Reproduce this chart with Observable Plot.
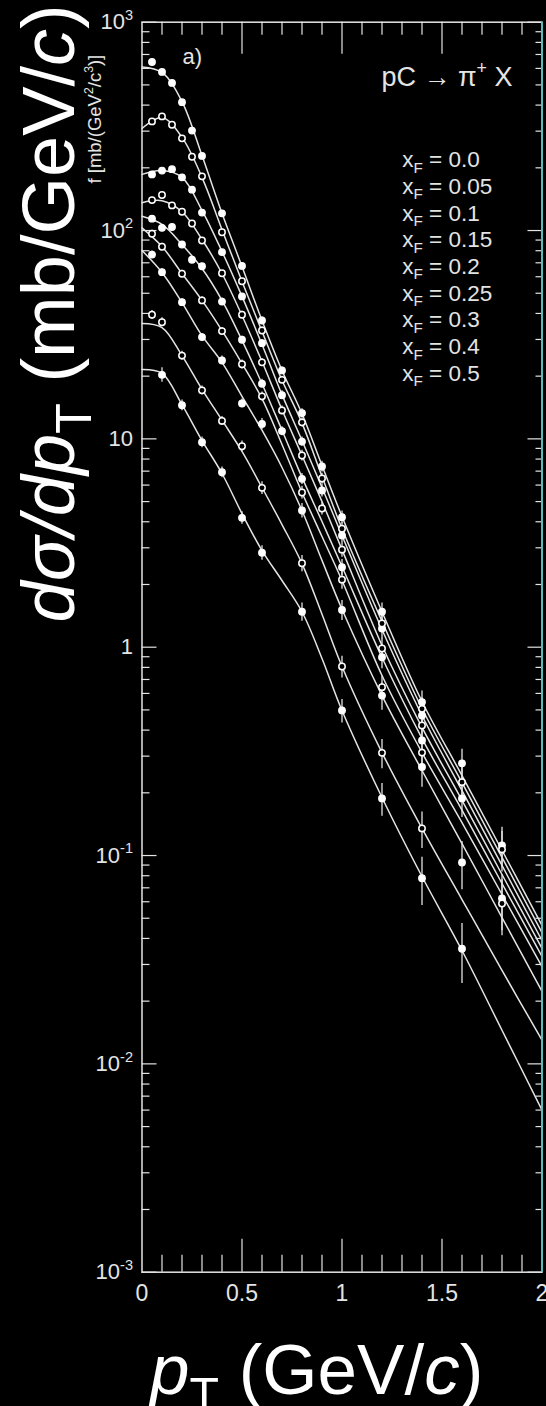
<!DOCTYPE html>
<html>
<head>
<meta charset="utf-8">
<script src="https://cdn.jsdelivr.net/npm/d3@7"></script>
<script src="https://cdn.jsdelivr.net/npm/@observablehq/plot@0.6"></script>
<style>
  html, body { margin: 0; padding: 0; background: #000; }
  #chart svg { display: block; }
</style>
</head>
<body>
<div id="chart"></div>
<script>
// p + C -> pi+ X : transverse-momentum spectra at fixed Feynman x (xF)

const xFValues = ["0.0", "0.05", "0.1", "0.15", "0.2", "0.25", "0.3", "0.4", "0.5"];

// measured pT bins (GeV/c)
const ptBins = [0.05, 0.1, 0.15, 0.2, 0.25, 0.3, 0.4, 0.5, 0.6, 0.7, 0.8, 0.9, 1.0, 1.2, 1.4, 1.6, 1.8];

// measured cross sections, one array per xF (null = no point in that bin)
const f_xF000 = [644, 577, 511, 413, 302, 228, 121, 67.6, 37.0, 21.3, 13.3, 7.37, 4.21, 1.48, 0.545, 0.277, 0.112];
const f_xF005 = [334, 353, 322, 277, 226, 182, 98.2, 57.1, 33.1, 19.2, 12.0, 6.45, 3.70, 1.30, 0.506, 0.225, 0.107];
const f_xF010 = [186, 194, 197, 180, 157, 122, 78.7, 48.3, 28.8, 16.2, 9.71, 5.65, 3.44, 1.23, 0.470, 0.188, 0.0622];
const f_xF015 = [140, 148, 132, 123, 108, 89.6, 62.4, 39.4, 23.3, 13.7, 8.32, 4.63, 2.94, 0.986, 0.421, null, 0.0589];
const f_xF020 = [114, 103, 104, 85.7, 72.4, 67.4, 45.6, 29.9, 18.4, 10.9, 6.43, null, 2.42, 0.895, 0.357, null, null];
const f_xF025 = [96.5, 83.6, null, 62.0, null, 46.2, 32.9, 22.8, 16.0, null, 5.53, null, 2.11, 0.643, 0.312, null, null];
const f_xF030 = [76.7, 63.1, null, 45.3, null, 30.8, 23.8, 14.8, 11.8, null, 4.53, null, 1.51, 0.586, 0.266, 0.0926, null];
const f_xF040 = [39.4, 36.3, null, 25.1, null, 17.1, 12.2, 9.22, 5.82, null, 2.53, null, 0.808, 0.311, 0.135, null, null];
const f_xF050 = [null, 20.3, null, 14.5, null, 9.64, 6.92, 4.18, 2.84, null, 1.48, null, 0.497, 0.188, 0.0778, 0.0357, null];

// relative statistical errors, same layout
const e_xF000 = [0.02, 0.02, 0.02, 0.02, 0.02, 0.02, 0.03, 0.03, 0.04, 0.04, 0.05, 0.06, 0.07, 0.10, 0.13, 0.17, 0.22];
const e_xF005 = [0.02, 0.02, 0.02, 0.02, 0.02, 0.02, 0.03, 0.03, 0.04, 0.04, 0.05, 0.06, 0.07, 0.10, 0.13, 0.18, 0.22];
const e_xF010 = [0.02, 0.02, 0.02, 0.02, 0.02, 0.03, 0.03, 0.03, 0.04, 0.05, 0.05, 0.07, 0.08, 0.11, 0.14, 0.19, 0.30];
const e_xF015 = [0.03, 0.03, 0.03, 0.03, 0.03, 0.03, 0.03, 0.04, 0.04, 0.05, 0.06, 0.07, 0.08, 0.12, 0.15, null, 0.30];
const e_xF020 = [0.03, 0.03, 0.03, 0.03, 0.03, 0.03, 0.04, 0.04, 0.05, 0.05, 0.06, null, 0.09, 0.12, 0.16, null, null];
const e_xF025 = [0.04, 0.04, null, 0.04, null, 0.04, 0.04, 0.05, 0.05, null, 0.07, null, 0.10, 0.13, 0.18, null, null];
const e_xF030 = [0.04, 0.04, null, 0.04, null, 0.04, 0.05, 0.05, 0.06, null, 0.08, null, 0.11, 0.15, 0.20, 0.26, null];
const e_xF040 = [0.05, 0.05, null, 0.05, null, 0.05, 0.05, 0.06, 0.07, null, 0.09, null, 0.12, 0.16, 0.20, null, null];
const e_xF050 = [null, 0.08, null, 0.06, null, 0.06, 0.06, 0.07, 0.08, null, 0.10, null, 0.13, 0.18, 0.26, 0.32, null];

// smooth interpolating curves, sampled on a fixed pT grid
const curvePt = [0, 0.1, 0.2, 0.3, 0.4, 0.5, 0.6, 0.7, 0.8, 0.9, 1.0, 1.2, 1.4, 1.6, 1.8, 2.0];
const fit_xF000 = [610, 574, 416, 229, 121, 67.2, 37.0, 21.3, 13.2, 7.45, 4.24, 1.48, 0.549, 0.242, 0.106, 0.0462];
const fit_xF005 = [309, 349, 280, 180, 101, 56.9, 32.8, 19.1, 11.9, 6.60, 3.71, 1.33, 0.508, 0.224, 0.0979, 0.0427];
const fit_xF010 = [186, 194, 180, 125, 79.3, 48.3, 28.4, 16.3, 9.82, 5.84, 3.44, 1.216, 0.470, 0.205, 0.0896, 0.0391];
const fit_xF015 = [136, 139, 123, 90.6, 62.2, 39.1, 23.5, 13.8, 8.32, 5.00, 2.94, 1.019, 0.412, 0.184, 0.0811, 0.0358];
const fit_xF020 = [117, 107, 85.7, 65.7, 46.2, 29.7, 18.4, 11.0, 6.53, 4.01, 2.44, 0.892, 0.365, 0.165, 0.0734, 0.0328];
const fit_xF025 = [103, 83.8, 62.2, 46.2, 33.1, 23.0, 15.6, 9.40, 5.53, 3.40, 2.09, 0.731, 0.312, 0.144, 0.065, 0.0293];
const fit_xF030 = [80.2, 62.9, 45.1, 31.3, 23.3, 16.0, 11.0, 7.29, 4.53, 2.61, 1.52, 0.586, 0.256, 0.114, 0.0504, 0.0223];
const fit_xF040 = [35.8, 34.2, 25.1, 17.3, 12.3, 8.70, 5.84, 3.88, 2.52, 1.44, 0.808, 0.312, 0.135, 0.0615, 0.0281, 0.0130];
const fit_xF050 = [21.5, 20.6, 14.6, 9.82, 6.82, 4.38, 2.91, 2.09, 1.48, 0.883, 0.497, 0.190, 0.0793, 0.035, 0.0145, 0.0060];

// axis ticks
const xTickLabels = [0, 0.5, 1, 1.5, 2];
const xMajorTicks = [0.5, 1, 1.5];
const xMinorTicks = [0.1, 0.2, 0.3, 0.4, 0.6, 0.7, 0.8, 0.9, 1.1, 1.2, 1.3, 1.4, 1.6, 1.7, 1.8, 1.9];
const yDecades = [1e-3, 1e-2, 1e-1, 1, 10, 100, 1000];
const yTickLabels = ["10^{-3}", "10^{-2}", "10^{-1}", "1", "10", "10^{2}", "10^{3}"];
const yMinorSteps = [2, 3, 4, 5, 6, 7, 8, 9];

// ---- tables for the marks ----
const measured = [f_xF000, f_xF005, f_xF010, f_xF015, f_xF020, f_xF025, f_xF030, f_xF040, f_xF050];
const errors = [e_xF000, e_xF005, e_xF010, e_xF015, e_xF020, e_xF025, e_xF030, e_xF040, e_xF050];
const fits = [fit_xF000, fit_xF005, fit_xF010, fit_xF015, fit_xF020, fit_xF025, fit_xF030, fit_xF040, fit_xF050];

const points = measured.flatMap((vals, s) =>
  vals.map((f, i) => ({s, pt: ptBins[i], f, err: errors[s][i], open: s % 2 === 1}))
).filter(d => d.f != null);

const curves = fits.flatMap((vals, s) => vals.map((f, i) => ({s, pt: curvePt[i], f})));

const yMinorTicks = yDecades.slice(0, -1).flatMap(d => yMinorSteps.map(k => k * d));
const yLabelFor = new Map(yDecades.map((d, i) => [d, yTickLabels[i]]));

// ---- layout ----
const W = 546, H = 1406;
const M = {top: 21.7, right: 4.5, bottom: 134.3, left: 141.5};
const plotW = W - M.left - M.right;
const plotH = H - M.top - M.bottom;
const fg = "#e4e4e4";
const font = "'Liberation Sans', Arial, Helvetica, sans-serif";

const legendMarks = xFValues.map((v, i) =>
  Plot.text([`x_{F} = ${v}`], {
    text: d => d, frameAnchor: "top-left", textAnchor: "start", lineAnchor: "bottom",
    dx: 260.2, dy: 145 + i * 26.7, fontSize: 22.5, fill: fg
  })
);

const chart = Plot.plot({
  width: W, height: H,
  marginTop: M.top, marginRight: M.right, marginBottom: M.bottom, marginLeft: M.left,
  style: {background: "#000", color: fg, fontFamily: font},
  x: {domain: [0, 2]},
  y: {type: "log", domain: [1e-3, 1e3]},
  marks: [
    Plot.frame({stroke: fg, strokeWidth: 1.5}),

    // inward ticks on all four sides
    Plot.tickX(xMinorTicks, {x: d => d, insetTop: plotH - 17, stroke: fg, strokeWidth: 1.2}),
    Plot.tickX(xMajorTicks, {x: d => d, insetTop: plotH - 33, stroke: fg, strokeWidth: 1.2}),
    Plot.tickX(xMinorTicks, {x: d => d, insetBottom: plotH - 13, stroke: fg, strokeWidth: 1.2}),
    Plot.tickX(xMajorTicks, {x: d => d, insetBottom: plotH - 32, stroke: fg, strokeWidth: 1.2}),
    Plot.tickY(yMinorTicks, {y: d => d, insetRight: plotW - 8, stroke: fg, strokeWidth: 1.2}),
    Plot.tickY(yDecades, {y: d => d, insetRight: plotW - 15, stroke: fg, strokeWidth: 1.2}),
    Plot.tickY(yMinorTicks, {y: d => d, insetLeft: plotW - 6, stroke: fg, strokeWidth: 1.2}),
    Plot.tickY(yDecades, {y: d => d, insetLeft: plotW - 14, stroke: fg, strokeWidth: 1.2}),

    Plot.axisX({ticks: xTickLabels, tickSize: 0, tickPadding: 12, fontSize: 23, label: null,
                tickFormat: d => String(d)}),
    Plot.axisY({ticks: yDecades, tickSize: 0, tickPadding: 9, fontSize: 22, label: null,
                tickFormat: d => yLabelFor.get(d)}),

    // curves, error bars, markers
    Plot.line(curves, {x: "pt", y: "f", z: "s", curve: "catmull-rom", stroke: fg, strokeWidth: 1.5}),
    Plot.ruleX(points, {x: "pt", y1: d => d.f * (1 - d.err), y2: d => d.f * (1 + d.err), stroke: fg, strokeWidth: 1.3}),
    Plot.dot(points.filter(d => !d.open), {x: "pt", y: "f", r: 3.3, fill: "#fff", stroke: "#fff", strokeWidth: 1.2}),
    Plot.dot(points.filter(d => d.open), {x: "pt", y: "f", r: 3.2, fill: "#000", stroke: "#fff", strokeWidth: 1.5}),

    Plot.ruleX([2], {stroke: "#4dbdbd", strokeWidth: 1.8}),

    // annotations
    Plot.text(["a)"], {text: d => d, frameAnchor: "top-left", textAnchor: "start", lineAnchor: "bottom",
                       dx: 40.5, dy: 41.3, fontSize: 22, fill: fg}),
    Plot.text(["pC → π^{+} X"], {text: d => d, frameAnchor: "top-right", textAnchor: "end", lineAnchor: "bottom",
                       dx: -29.5, dy: 63.3, fontSize: 27, fill: fg}),
    ...legendMarks,
    Plot.text(["f [mb/(GeV^{2}/c^{3})]"], {text: d => d, frameAnchor: "top-left", rotate: -90,
                       textAnchor: "start", lineAnchor: "bottom", dx: -41.5, dy: 161.3, fontSize: 18.5, fill: fg}),
    Plot.text(["|dσ/dp|_{T} (mb/GeV/|c|)"], {text: d => d, frameAnchor: "bottom-left", rotate: -90,
                       textAnchor: "start", lineAnchor: "bottom", dx: -68.5, dy: -649.7, fontSize: 74, fill: "#fff"}),
    Plot.text(["|p|_{T} (GeV/|c|)"], {text: d => d, frameAnchor: "bottom-left",
                       textAnchor: "start", lineAnchor: "bottom", dx: 8, dy: 121.3, fontSize: 71, fill: "#fff"})
  ]
});

document.getElementById("chart").appendChild(chart);

// Rich text: ^{..} superscript, _{..} subscript, |..| italic
const SVGNS = "http://www.w3.org/2000/svg";
function richText(el) {
  const s = el.textContent;
  if (!/[\^_|]/.test(s)) return;
  const fs = parseFloat(getComputedStyle(el).fontSize);
  el.textContent = "";
  let shift = 0;
  const re = /\^\{([^}]*)\}|_\{([^}]*)\}|\|([^|]*)\||([^^_|]+)/g;
  for (const m of s.matchAll(re)) {
    const t = document.createElementNS(SVGNS, "tspan");
    let target = 0, size = null, italic = false, txt;
    if (m[1] !== undefined) { txt = m[1]; target = -0.42 * fs; size = 0.66 * fs; }
    else if (m[2] !== undefined) { txt = m[2]; target = 0.24 * fs; size = 0.68 * fs; }
    else if (m[3] !== undefined) { txt = m[3]; italic = true; }
    else { txt = m[4]; }
    const dy = target - shift;
    shift = target;
    if (dy) t.setAttribute("dy", dy.toFixed(2));
    if (size) t.setAttribute("font-size", size.toFixed(2));
    if (italic) t.setAttribute("font-style", "italic");
    t.textContent = txt;
    el.appendChild(t);
  }
}
chart.querySelectorAll("text").forEach(richText);
</script>
</body>
</html>
